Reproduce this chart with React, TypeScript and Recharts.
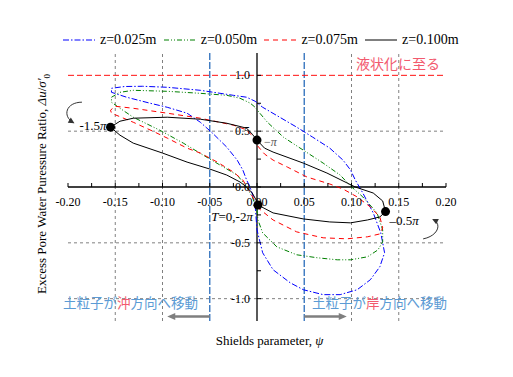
import React from "react";
import { LineChart, Line, XAxis, YAxis, ReferenceLine, ReferenceDot } from "recharts";

// axis ticks (minor every 0.025 / 0.25, labels every 0.05 / 0.5)
const X_TICKS = [-0.2, -0.175, -0.15, -0.125, -0.1, -0.075, -0.05, -0.025, 0, 0.025, 0.05, 0.075, 0.1, 0.125, 0.15, 0.175, 0.2];
const X_LABELS = [-0.2, -0.15, -0.1, -0.05, 0, 0.05, 0.1, 0.15, 0.2];
const Y_TICKS = [-1, -0.75, -0.5, -0.25, 0, 0.25, 0.5, 0.75, 1];
const Y_LABELS = [-1, -0.5, 0, 0.5, 1];

const GRID_X = [-0.15, -0.1, 0.1, 0.15];
const GRID_Y = [0.5, -0.5, -1];
const ZONE_X = [-0.05, 0.05];
const LIQUEFACTION_Y = 1;

// loops: (Shields parameter, excess pore pressure ratio), starting at T=0
const Z025: [number, number][] = [
	[-0.002, -0.161], [0.0, -0.384], [0.006, -0.589], [0.017, -0.741], [0.035, -0.857], [0.049, -0.92],
	[0.07, -0.964], [0.088, -0.964], [0.106, -0.92], [0.12, -0.83], [0.13, -0.714], [0.135, -0.589],
	[0.131, -0.411], [0.123, -0.232], [0.112, -0.054], [0.104, 0.063], [0.099, 0.152], [0.091, 0.241],
	[0.077, 0.348], [0.059, 0.446], [0.042, 0.536], [0.024, 0.625], [0.006, 0.714], [-0.002, 0.768],
	[-0.011, 0.804], [-0.025, 0.821], [-0.06, 0.866], [-0.095, 0.893], [-0.121, 0.902], [-0.14, 0.9],
	[-0.154, 0.884], [-0.154, 0.848], [-0.138, 0.804], [-0.113, 0.75], [-0.095, 0.714], [-0.074, 0.661],
	[-0.06, 0.58], [-0.047, 0.482], [-0.032, 0.357], [-0.021, 0.241], [-0.015, 0.152], [-0.011, 0.063],
	[-0.007, -0.009], [-0.004, -0.089],
];

const Z050: [number, number][] = [
	[0.0, -0.205], [0.001, -0.295], [0.006, -0.411], [0.021, -0.536], [0.042, -0.607], [0.064, -0.634],
	[0.085, -0.652], [0.099, -0.652], [0.117, -0.625], [0.128, -0.563], [0.133, -0.491], [0.133, -0.384],
	[0.127, -0.232], [0.112, -0.089], [0.099, 0.009], [0.088, 0.107], [0.07, 0.214], [0.049, 0.33],
	[0.028, 0.446], [0.011, 0.58], [0.003, 0.661], [-0.002, 0.714], [-0.007, 0.75], [-0.018, 0.795],
	[-0.032, 0.821], [-0.06, 0.839], [-0.095, 0.857], [-0.131, 0.866], [-0.145, 0.848], [-0.154, 0.804],
	[-0.154, 0.759], [-0.145, 0.705], [-0.131, 0.625], [-0.103, 0.509], [-0.078, 0.393], [-0.057, 0.286],
	[-0.039, 0.196], [-0.021, 0.107], [-0.015, 0.045], [-0.011, 0.0], [-0.005, -0.089],
];

const Z075: [number, number][] = [
	[0.0, -0.179], [0.017, -0.295], [0.042, -0.402], [0.07, -0.455], [0.095, -0.464], [0.117, -0.446],
	[0.13, -0.42], [0.133, -0.366], [0.13, -0.268], [0.12, -0.179], [0.106, -0.089], [0.091, -0.018],
	[0.077, 0.027], [0.053, 0.089], [0.032, 0.179], [0.017, 0.241], [0.008, 0.295], [0.0, 0.375],
	[-0.004, 0.455], [-0.013, 0.518], [-0.025, 0.554], [-0.06, 0.616], [-0.095, 0.661], [-0.131, 0.705],
	[-0.15, 0.723], [-0.155, 0.688], [-0.154, 0.661], [-0.131, 0.58], [-0.108, 0.491], [-0.095, 0.438],
	[-0.074, 0.348], [-0.06, 0.304], [-0.042, 0.223], [-0.025, 0.134], [-0.015, 0.063], [-0.01, -0.009],
	[-0.004, -0.098],
];

const Z100: [number, number][] = [
	[0.001, -0.161], [0.017, -0.232], [0.049, -0.286], [0.077, -0.313], [0.099, -0.321], [0.117, -0.295],
	[0.13, -0.268], [0.136, -0.22], [0.133, -0.125], [0.123, -0.054], [0.104, 0.0], [0.074, 0.125],
	[0.049, 0.214], [0.017, 0.313], [0.008, 0.348], [0.0, 0.42], [-0.005, 0.473], [-0.011, 0.527],
	[-0.032, 0.571], [-0.06, 0.607], [-0.095, 0.625], [-0.131, 0.616], [-0.145, 0.589], [-0.155, 0.536],
	[-0.145, 0.464], [-0.131, 0.393], [-0.1, 0.304], [-0.074, 0.223], [-0.05, 0.161], [-0.032, 0.107],
	[-0.018, 0.045], [-0.011, 0.0], [-0.005, -0.054], [-0.001, -0.116],
];

// marked phases on the z=0.100m loop
const PHASE_X = [-0.155, 0.0, 0.001, 0.136];
const PHASE_Y = [0.536, 0.42, -0.161, -0.22];
const PHASE_TAGS = ["-1.5π", "-π", "T=0,-2π", "-0.5π"];

// gray arrows: particle movement off/on-shore
const MOVE_Y = -1.16;
const MOVE_TO = [-0.095, 0.095];

const W = 497;
const H = 361;
const PLOT = { left: 60, top: 45, width: 378, height: 268 };
const X_DOMAIN = [-0.2, 0.2];
const Y_DOMAIN = [-1.2, 1.2];
const ZERO_X = PLOT.left + (PLOT.width * (0 - X_DOMAIN[0])) / (X_DOMAIN[1] - X_DOMAIN[0]);
const ZERO_Y = PLOT.top + (PLOT.height * (Y_DOMAIN[1] - 0)) / (Y_DOMAIN[1] - Y_DOMAIN[0]);

const SERIF = '"Liberation Serif", "Times New Roman", serif';
const CJK = '"Noto Sans CJK JP", sans-serif';
const JP_BLUE = "#5b9bd5";
const JP_PINK = "#f25a6e";

const SERIES = [
	{ name: "z=0.025m", pts: Z025, color: "#0000ff", dash: "6 2 1.5 2" },
	{ name: "z=0.050m", pts: Z050, color: "#008000", dash: "5 2 1 2 1 2" },
	{ name: "z=0.075m", pts: Z075, color: "#ff0000", dash: "5 4" },
	{ name: "z=0.100m", pts: Z100, color: "#000000", dash: undefined as string | undefined },
];

const toPts = (a: [number, number][]) => [...a, a[0]].map(([x, y]) => ({ x, y }));

const near = (list: number[], v: number) => list.some((l) => Math.abs(l - v) < 1e-9);

const XTick = (p: any) => {
	const v = p.payload.value;
	return (
		<g>
			<line x1={p.x} x2={p.x} y1={ZERO_Y} y2={ZERO_Y - 4} stroke="#000" />
			{near(X_LABELS, v) && (
				<text x={p.x} y={ZERO_Y + 19} textAnchor="middle" fontFamily={SERIF} fontSize={12} fill="#000">
					{v.toFixed(2)}
				</text>
			)}
		</g>
	);
};

const YTick = (p: any) => {
	const v = p.payload.value;
	return (
		<g>
			<line x1={ZERO_X} x2={ZERO_X + 4} y1={p.y} y2={p.y} stroke="#000" />
			{near(Y_LABELS, v) && (
				<text x={ZERO_X - 7} y={p.y + 4} textAnchor="end" fontFamily={SERIF} fontSize={12} fill="#000">
					{v.toFixed(1)}
				</text>
			)}
		</g>
	);
};

const arrowHead = (tx: number, ty: number, dx: number, dy: number, len: number, half: number) => {
	const l = Math.hypot(dx, dy);
	const ux = dx / l;
	const uy = dy / l;
	const bx = tx - ux * len;
	const by = ty - uy * len;
	return `${tx},${ty} ${bx - uy * half},${by + ux * half} ${bx + uy * half},${by - ux * half}`;
};

const MoveArrow = (p: any) => {
	const { x1, y1, x2, y2 } = p;
	const dx = x2 - x1;
	const dy = y2 - y1;
	const l = Math.hypot(dx, dy) || 1;
	return (
		<g>
			<line x1={x1} y1={y1} x2={x2 - (dx / l) * 6} y2={y2 - (dy / l) * 6} stroke="#7f7f7f" strokeWidth={2.5} />
			<polygon points={arrowHead(x2, y2, dx, dy, 8, 3.5)} fill="#7f7f7f" />
		</g>
	);
};

const PhaseDot = (p: any) => {
	const { cx, cy, tag } = p;
	const t = { fontFamily: SERIF, fontSize: 13, fill: "#000" };
	let label = null;
	if (tag === "-1.5π")
		label = (
			<text x={cx - 4} y={cy + 2.5} textAnchor="end" {...t}>
				-1.5<tspan fontStyle="italic">π</tspan>
			</text>
		);
	if (tag === "-π")
		label = (
			<text x={cx + 7} y={cy + 6} {...t} fontSize={12} fill="#555">
				−<tspan fontStyle="italic">π</tspan>
			</text>
		);
	if (tag === "T=0,-2π")
		label = (
			<text x={cx - 5} y={cy + 16} textAnchor="end" {...t}>
				<tspan fontStyle="italic">T</tspan>=0,-2<tspan fontStyle="italic">π</tspan>
			</text>
		);
	if (tag === "-0.5π")
		label = (
			<text x={cx + 4} y={cy + 13} {...t}>
				–0.5<tspan fontStyle="italic">π</tspan>
			</text>
		);
	return (
		<g>
			<circle cx={cx} cy={cy} r={4.5} fill="#000" />
			{label}
		</g>
	);
};

// curved arrows showing loop direction
const TurnLeft = (p: any) => {
	const { cx, cy } = p;
	return (
		<g>
			<path d={`M${cx + 4.5},${cy - 10} C${cx - 11.5},${cy - 10} ${cx - 15.5},${cy + 4} ${cx - 4},${cy + 10.5}`} fill="none" stroke="#333" strokeWidth={1} />
			<polygon points={arrowHead(cx - 3, cy + 11, 12, 7, 6, 3)} fill="#333" />
		</g>
	);
};

const TurnRight = (p: any) => {
	const { cx, cy } = p;
	return (
		<g>
			<path d={`M${cx - 13.4},${cy + 18.4} C${cx + 1.6},${cy + 15.4} ${cx + 5.6},${cy + 3.4} ${cx - 3.4},${cy - 1}`} fill="none" stroke="#333" strokeWidth={1} />
			<polygon points={arrowHead(cx - 4.4, cy - 1.6, -10, -5, 6, 3)} fill="#333" />
		</g>
	);
};

function LegendSwatch({ color, dash }: { color: string; dash?: string }) {
	return (
		<svg width={32} height={10} style={{ display: "block" }}>
			<line x1={0} x2={32} y1={5} y2={5} stroke={color} strokeWidth={1} strokeDasharray={dash} />
		</svg>
	);
}

export default function App() {
	return (
		<div style={{ position: "relative", width: W, height: H, fontFamily: SERIF }}>
			<LineChart width={W} height={H} margin={{ top: PLOT.top, right: W - PLOT.left - PLOT.width, bottom: H - PLOT.top - PLOT.height - 20, left: PLOT.left - 20 }}>
				<XAxis type="number" dataKey="x" domain={X_DOMAIN} ticks={X_TICKS} interval={0} allowDataOverflow height={20} axisLine={false} tickLine={false} tick={XTick} />
				<YAxis type="number" domain={Y_DOMAIN} ticks={Y_TICKS} interval={0} allowDataOverflow width={20} axisLine={false} tickLine={false} tick={YTick} />
				{GRID_X.map((v) => (
					<ReferenceLine key={"gx" + v} x={v} stroke="#808080" strokeDasharray="3 3" />
				))}
				{GRID_Y.map((v) => (
					<ReferenceLine key={"gy" + v} y={v} stroke="#808080" strokeDasharray="3 3" />
				))}
				{ZONE_X.map((v) => (
					<ReferenceLine key={"zx" + v} x={v} stroke="#3a78c0" strokeWidth={1.4} strokeDasharray="7 2" />
				))}
				<ReferenceLine
					y={LIQUEFACTION_Y}
					stroke="#ff1010"
					strokeWidth={1}
					strokeDasharray="6 3"
					label={{ value: "液状化に至る", position: "insideBottomRight", offset: 6, fill: JP_PINK, fontSize: 14, fontFamily: CJK }}
				/>
				<ReferenceLine y={0} stroke="#000" strokeWidth={1.3} />
				<ReferenceLine x={0} stroke="#000" strokeWidth={1.3} />
				{SERIES.map((s) => (
					<Line
						key={s.name}
						data={toPts(s.pts)}
						dataKey="y"
						type="linear"
						dot={false}
						activeDot={false}
						stroke={s.color}
						strokeWidth={1}
						strokeDasharray={s.dash}
						isAnimationActive={false}
					/>
				))}
				{MOVE_TO.map((to, i) => (
					<ReferenceLine
						key={"mv" + i}
						segment={[
							{ x: ZONE_X[i], y: MOVE_Y },
							{ x: to, y: MOVE_Y },
						]}
						shape={MoveArrow}
					/>
				))}
				{PHASE_X.map((x, i) => (
					<ReferenceDot key={PHASE_TAGS[i]} x={x} y={PHASE_Y[i]} r={4.5} shape={(p: any) => <PhaseDot {...p} tag={PHASE_TAGS[i]} />} />
				))}
				<ReferenceDot x={-0.19} y={0.67} r={1} shape={TurnLeft} />
				<ReferenceDot x={0.19} y={-0.3} r={1} shape={TurnRight} />
			</LineChart>

			<div style={{ position: "absolute", left: 55, top: 24, display: "flex" }}>
				{SERIES.map((s) => (
					<div key={s.name} style={{ width: 100.7, display: "flex", alignItems: "center", height: 16 }}>
						<LegendSwatch color={s.color} dash={s.dash} />
						<span style={{ marginLeft: 5, fontSize: 14, whiteSpace: "nowrap" }}>{s.name}</span>
					</div>
				))}
			</div>

			<div style={{ position: "absolute", left: 261.5, top: 333, transform: "translate(-50%,-50%)", fontSize: 13, whiteSpace: "nowrap" }}>
				Shields parameter, <i>ψ</i>
			</div>
			<div style={{ position: "absolute", left: 35, top: 176, transform: "translate(-50%,-50%) rotate(-90deg)", fontSize: 13, whiteSpace: "nowrap" }}>
				Excess Pore Water Puressure Ratio, <i>Δu</i>/<i>σ'</i>
				<sub style={{ fontSize: 9 }}>0</sub>
			</div>

			<div style={{ position: "absolute", left: 55, top: 294, transform: "translateY(-50%)", fontFamily: CJK, fontSize: 13.5, color: JP_BLUE, whiteSpace: "nowrap" }}>
				土粒子が<span style={{ color: JP_PINK }}>沖</span>方向へ移動
			</div>
			<div style={{ position: "absolute", left: 304, top: 294, transform: "translateY(-50%)", fontFamily: CJK, fontSize: 13.5, color: JP_BLUE, whiteSpace: "nowrap" }}>
				土粒子が<span style={{ color: JP_PINK }}>岸</span>方向へ移動
			</div>
		</div>
	);
}
